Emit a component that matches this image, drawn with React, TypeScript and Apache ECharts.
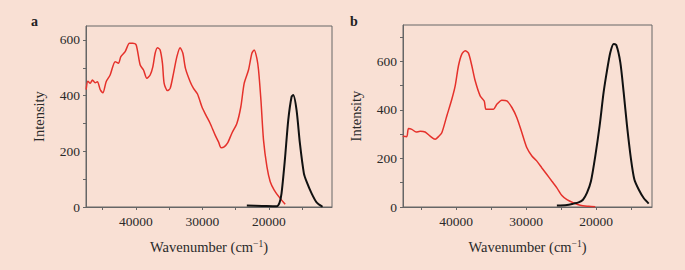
import React, { useEffect, useRef } from "react";
import * as echarts from "echarts";

// Panel a – red (absorption/excitation) spectrum
const aRedX = [47475, 47220, 46870, 46530, 46120, 45780, 45370, 44960, 44470, 43870, 43110, 42620, 42260, 41610, 40960, 40450, 39950, 39350, 38850, 38350, 37850, 37440, 37100, 36750, 36350, 36000, 35745, 35250, 34840, 34340, 33830, 33340, 32930, 32540, 31830, 31330, 30730, 30070, 29470, 28820, 28070, 27570, 27170, 26720, 26220, 25560, 24810, 24210, 23710, 23060, 22550, 22200, 21800, 21550, 21190, 20800, 20290, 19790, 19190, 18290, 17540];
const aRedY = [422, 452, 444, 456, 446, 450, 422, 410, 450, 474, 522, 516, 540, 558, 588, 588, 582, 510, 492, 462, 474, 504, 552, 572, 564, 516, 444, 418, 426, 480, 540, 572, 552, 498, 450, 426, 406, 360, 330, 300, 258, 234, 213, 216, 229, 265, 300, 360, 444, 492, 552, 564, 534, 492, 384, 240, 145, 91, 61, 31, 10];
// Panel a – black (emission) spectrum
const aBlackX = [23310, 21000, 18830, 18400, 18090, 17590, 17080, 16580, 16330, 15830, 15330, 14730, 14320, 13570, 12820, 11920];
const aBlackY = [5, 4, 3, 15, 49, 169, 312, 396, 402, 348, 229, 121, 91, 49, 17, 1];

// Panel b – red spectrum
const bRedX = [47632, 47060, 46820, 46340, 45720, 45150, 44440, 43720, 43000, 42530, 42050, 41340, 40620, 40140, 39670, 39190, 38710, 38240, 37760, 37280, 36570, 35990, 35750, 35230, 34660, 34180, 33470, 32750, 32030, 31320, 30600, 29890, 29170, 28460, 27740, 27030, 26310, 25600, 24880, 24160, 23210, 22260, 21060, 20110];
const bRedY = [292, 290, 323, 320, 309, 312, 309, 292, 279, 290, 306, 375, 444, 499, 582, 630, 644, 634, 582, 520, 458, 437, 403, 403, 403, 423, 440, 437, 410, 368, 306, 244, 210, 189, 161, 134, 106, 79, 47, 30, 17, 7, 3, 1];
// Panel b – black spectrum
const bBlackX = [25600, 24160, 23210, 22500, 21870, 21300, 20730, 20110, 19490, 18920, 18440, 17960, 17480, 17100, 16530, 16050, 15570, 15000, 14520, 13900, 13190, 12470];
const bBlackY = [6, 8, 14, 19, 30, 58, 106, 210, 334, 472, 561, 637, 672, 667, 596, 472, 334, 196, 113, 72, 37, 14];

const xLabels = [20000, 30000, 40000];
const xTicks = [15000, 20000, 25000, 30000, 35000, 40000, 45000];
const yLabels = [0, 200, 400, 600];
const yTicksA = [0, 100, 200, 300, 400, 500, 600];
const yTicksB = [0, 100, 200, 300, 400, 500, 600, 700];

const zip = (xs: number[], ys: number[]) => xs.map((x, i) => [x, ys[i]]);

const FONT = "'Liberation Serif', 'DejaVu Serif', serif";
const AXIS = "#666";
const TXT = "#2a2a2a";
const BG = "#f9e0d4";

export default function App() {
  const ref = useRef<HTMLDivElement>(null);
  useEffect(() => {
    if (!ref.current) return;
    const chart = echarts.init(ref.current, undefined, { renderer: "svg" });
    const xAxis = (gridIndex: number, min: number, max: number) => ({
      type: "value",
      gridIndex,
      min,
      max,
      inverse: true,
      splitLine: { show: false },
      axisLine: { show: true, lineStyle: { color: AXIS, width: 1 } },
      axisTick: { show: true, length: 3, customValues: xTicks, lineStyle: { color: AXIS } },
      axisLabel: {
        customValues: xLabels,
        formatter: (v: number) => String(v),
        color: TXT,
        fontFamily: FONT,
        fontSize: 13.5,
        margin: 7,
      },
      name: "{t|Wavenumber (cm}{s|−1}{t|)}",
      nameLocation: "middle",
      nameGap: 32,
      nameTextStyle: {
        rich: {
          t: { fontFamily: FONT, fontSize: 14.5, color: TXT },
          s: { fontFamily: FONT, fontSize: 9.5, color: TXT, verticalAlign: "top", padding: [0, 0, 6, 0] },
        },
      },
    });
    const yAxis = (gridIndex: number, max: number, ticks: number[], gap: number) => ({
      type: "value",
      gridIndex,
      min: 0,
      max,
      splitLine: { show: false },
      axisLine: { show: true, lineStyle: { color: AXIS, width: 1 } },
      axisTick: { show: true, length: 3, customValues: ticks, lineStyle: { color: AXIS } },
      axisLabel: {
        customValues: yLabels,
        formatter: (v: number) => String(v),
        color: TXT,
        fontFamily: FONT,
        fontSize: 13.5,
        margin: 6,
      },
      name: "Intensity",
      nameLocation: "middle",
      nameGap: gap,
      nameRotate: 90,
      nameTextStyle: { fontFamily: FONT, fontSize: 14.5, color: TXT },
    });
    const line = (xi: number, data: number[][], color: string, width: number) => ({
      type: "line",
      xAxisIndex: xi,
      yAxisIndex: xi,
      data,
      showSymbol: false,
      smooth: 0.25,
      lineStyle: { color, width },
      z: color === "#111" ? 3 : 2,
    });
    chart.setOption({
      animation: false,
      backgroundColor: BG,
      grid: [
        { left: 86, top: 26, width: 246, height: 181, show: true, borderColor: AXIS, borderWidth: 1, backgroundColor: "transparent" },
        { left: 403, top: 25, width: 249, height: 182, show: true, borderColor: AXIS, borderWidth: 1, backgroundColor: "transparent" },
      ],
      xAxis: [xAxis(0, 10500, 47500), xAxis(1, 12000, 47600)],
      yAxis: [yAxis(0, 650, yTicksA, 40), yAxis(1, 750, yTicksB, 40)],
      graphic: [
        { type: "text", left: 31, top: 14, style: { text: "a", font: `bold 14px ${FONT}`, fill: "#222" } },
        { type: "text", left: 350, top: 14, style: { text: "b", font: `bold 14px ${FONT}`, fill: "#222" } },
      ],
      series: [
        line(0, zip(aRedX, aRedY), "#e5312b", 1.5),
        line(0, zip(aBlackX, aBlackY), "#111", 2),
        line(1, zip(bRedX, bRedY), "#e5312b", 1.5),
        line(1, zip(bBlackX, bBlackY), "#111", 2),
      ],
    });
    return () => chart.dispose();
  }, []);
  return (
    <div
      ref={ref}
      style={{ position: "fixed", left: 0, top: 0, width: 685, height: 270, background: BG }}
    />
  );
}
